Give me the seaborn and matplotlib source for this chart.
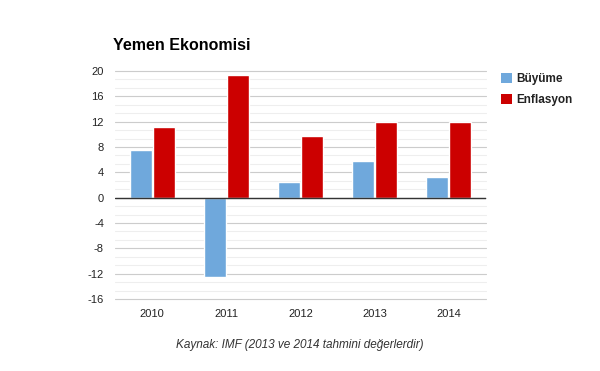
import matplotlib
matplotlib.use("Agg")
import matplotlib.pyplot as plt
import seaborn as sns
import pandas as pd
import numpy as np
from matplotlib.patches import Patch

years = ["2010", "2011", "2012", "2013", "2014"]
buyume = [7.6, -12.6, 2.4, 5.8, 3.3]
enflasyon = [11.1, 19.4, 9.8, 11.9, 11.9]
series = ["Büyüme", "Enflasyon"]
colors = ["#6fa8dc", "#cc0000"]
yticks = [20, 16, 12, 8, 4, 0, -4, -8, -12, -16]

df = pd.DataFrame({
    "Yıl": years * 2,
    "Değer": buyume + enflasyon,
    "Seri": [series[0]] * len(years) + [series[1]] * len(years),
})

sns.set_theme(style="white")
plt.rcParams["font.family"] = ["Liberation Sans", "DejaVu Sans"]

fig = plt.figure(figsize=(6, 3.71), dpi=100)
ax = fig.add_axes([115/600, 1 - 299/371, (486-115)/600, (299-71)/371])

# gridlines
for v in np.arange(-16, 20.01, 4/3):
    ax.axhline(v, color="#eeeeee", lw=0.8, zorder=0, clip_on=False)
for v in yticks:
    ax.axhline(v, color="#cccccc", lw=0.8, zorder=0.5, clip_on=False)

sns.barplot(data=df, x="Yıl", y="Değer", hue="Seri", palette=colors,
            width=0.62, gap=0.04, ax=ax, legend=False, zorder=2, saturation=1)
ax.axhline(0, color="#333333", lw=1, zorder=3)

ax.set_ylim(-16, 20)
ax.set_xlim(-0.5, 4.5)
ax.set_yticks(yticks)
ax.set_yticklabels([str(v) for v in yticks])
ax.set_xlabel("")
ax.set_ylabel("")
ax.tick_params(axis="y", labelsize=8, colors="#222222", length=0, pad=8)
ax.tick_params(axis="x", labelsize=8, colors="#222222", length=0, pad=7)
for s in ax.spines.values():
    s.set_visible(False)

fig.text(113/600, 1 - 45/371, "Yemen Ekonomisi", fontsize=11.5, fontweight="bold",
         color="#000000", va="center", ha="left")

handles = [Patch(facecolor=c, edgecolor="none") for c in colors]
fig.legend(handles, series, loc="upper left", bbox_to_anchor=(490/600, 1 - 62/371),
           frameon=False, handlelength=0.95, handleheight=0.95, handletextpad=0.35,
           labelspacing=0.75, prop={"size": 8.5, "weight": "bold"}, labelcolor="#222222")

fig.text(300/600, 1 - 345/371, "Kaynak: IMF (2013 ve 2014 tahmini değerlerdir)",
         fontsize=8.5, style="italic", color="#333333", ha="center", va="center")

fig.savefig("out.png", dpi=100)
